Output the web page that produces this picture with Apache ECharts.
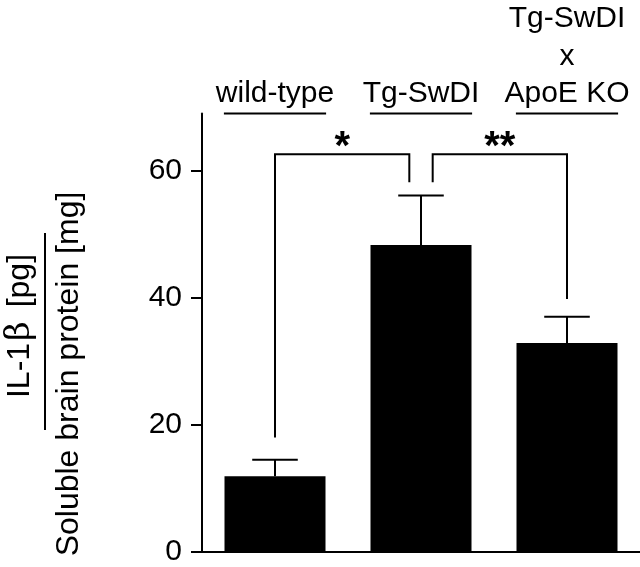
<!DOCTYPE html>
<html>
<head>
<meta charset="utf-8">
<title>IL-1β per soluble brain protein</title>
<script src="https://cdn.jsdelivr.net/npm/echarts@6/dist/echarts.min.js"></script>
<style>
html, body { margin: 0; padding: 0; background: #fff; }
#chart { width: 640px; height: 567px; }
</style>
</head>
<body>
<div id="chart"></div>
<script>
// groups (top labels)
const categories = ['wild-type', 'Tg-SwDI', 'Tg-SwDI\nx\nApoE KO']
// IL-1b, pg per mg protein
const means = [11.9, 48.3, 32.9]
const sems = [2.6, 7.8, 4.1]
const yTicks = [0, 20, 40, 60]
const yMax = 69

// significance brackets
const bracketFrom = [0, 1]
const bracketTo = [1, 2]
const bracketFromShift = [0, 0.08]
const bracketToShift = [-0.08, 0]
const bracketTop = [62.6, 62.6]
const bracketFromEnd = [18.0, 58.2]
const bracketToEnd = [58.2, 39.8]
const bracketLabels = ['*', '**']

const FONT = 'Arial, "Liberation Sans", Helvetica, sans-serif'

const chart = echarts.init(document.getElementById('chart'))

const errorData = means.map((m, i) => [i, m, m + sems[i]])
const bracketData = bracketFrom.map((f, i) => [
  f, bracketTop[i], bracketTo[i], bracketFromEnd[i], bracketToEnd[i], bracketFromShift[i], bracketToShift[i], i
])
const underlineData = categories.map((c, i) => [i, yMax])

const black = { stroke: '#000', lineWidth: 2 }

const option = {
  animation: false,
  grid: { left: 202, top: 113, width: 441, height: 439 },
  xAxis: [
    {
      type: 'category',
      data: categories,
      axisLine: { lineStyle: { color: '#000', width: 2 } },
      axisTick: { alignWithLabel: true, length: 3, lineStyle: { color: '#666', width: 1 } },
      axisLabel: { show: false }
    },
    {
      type: 'category',
      position: 'top',
      data: categories,
      axisLine: { show: false },
      axisTick: { show: false },
      axisLabel: {
        interval: 0,
        color: '#000',
        fontFamily: FONT,
        fontSize: 30,
        lineHeight: 37.5,
        margin: 1
      }
    }
  ],
  yAxis: {
    type: 'value',
    min: 0,
    max: yMax,
    interval: 20,
    axisLine: { show: true, lineStyle: { color: '#000', width: 2 } },
    axisTick: { show: true, length: 11, customValues: yTicks, lineStyle: { color: '#000', width: 2 } },
    axisLabel: { customValues: yTicks, color: '#000', fontFamily: FONT, fontSize: 30, margin: 20 },
    splitLine: { show: false }
  },
  graphic: [
    {
      type: 'text',
      x: 20,
      y: 326,
      rotation: Math.PI / 2,
      style: {
        text: 'IL-1{b|β} [pg]',
        fill: '#000',
        fontFamily: FONT,
        fontSize: 32,
        align: 'center',
        verticalAlign: 'middle',
        rich: { b: { fontFamily: '"DejaVu Serif", serif', fontSize: 34, padding: [0, 5, 0, 2] } }
      }
    },
    {
      type: 'line',
      shape: { x1: 45, y1: 233, x2: 45, y2: 430 },
      style: black
    },
    {
      type: 'text',
      x: 69,
      y: 374,
      rotation: Math.PI / 2,
      style: {
        text: 'Soluble brain protein [mg]',
        fill: '#000',
        fontFamily: FONT,
        fontSize: 32,
        align: 'center',
        verticalAlign: 'middle'
      }
    }
  ],
  series: [
    {
      type: 'bar',
      data: means,
      barWidth: 101,
      itemStyle: { color: '#000' },
      z: 2
    },
    {
      // error bars, upward only
      type: 'custom',
      data: errorData,
      encode: { x: 0, y: [1, 2] },
      z: 3,
      renderItem (params, api) {
        const x = api.value(0)
        const lo = api.coord([x, api.value(1)])
        const hi = api.coord([x, api.value(2)])
        const half = api.size([1, 0])[0] * 0.156
        return {
          type: 'group',
          children: [
            { type: 'line', shape: { x1: lo[0], y1: lo[1], x2: hi[0], y2: hi[1] }, style: black },
            { type: 'line', shape: { x1: hi[0] - half, y1: hi[1], x2: hi[0] + half, y2: hi[1] }, style: black }
          ]
        }
      }
    },
    {
      // significance brackets
      type: 'custom',
      data: bracketData,
      encode: { x: 0, y: 1 },
      z: 3,
      clip: false,
      renderItem (params, api) {
        const band = api.size([1, 0])[0]
        const top = api.coord([api.value(0), api.value(1)])[1]
        const a = api.coord([api.value(0), api.value(3)])
        const b = api.coord([api.value(2), api.value(4)])
        const xa = a[0] + api.value(5) * band
        const xb = b[0] + api.value(6) * band
        return {
          type: 'group',
          children: [
            { type: 'polyline', shape: { points: [[xa, a[1]], [xa, top], [xb, top], [xb, b[1]]] }, style: { stroke: '#000', lineWidth: 2, fill: null } },
            {
              type: 'text',
              x: (xa + xb) / 2,
              y: top - 6,
              style: {
                text: bracketLabels[api.value(7)],
                fill: '#000',
                fontFamily: FONT,
                fontSize: 40,
                fontWeight: 'bold',
                align: 'center',
                verticalAlign: 'middle'
              }
            }
          ]
        }
      }
    },
    {
      // group underlines below the top labels
      type: 'custom',
      data: underlineData,
      encode: { x: 0, y: 1 },
      clip: false,
      renderItem (params, api) {
        const p = api.coord([api.value(0), api.value(1)])
        const half = api.size([1, 0])[0] * 0.35
        return { type: 'line', shape: { x1: p[0] - half, y1: p[1], x2: p[0] + half, y2: p[1] }, style: black }
      }
    }
  ]
}

chart.setOption(option)
</script>
</body>
</html>
